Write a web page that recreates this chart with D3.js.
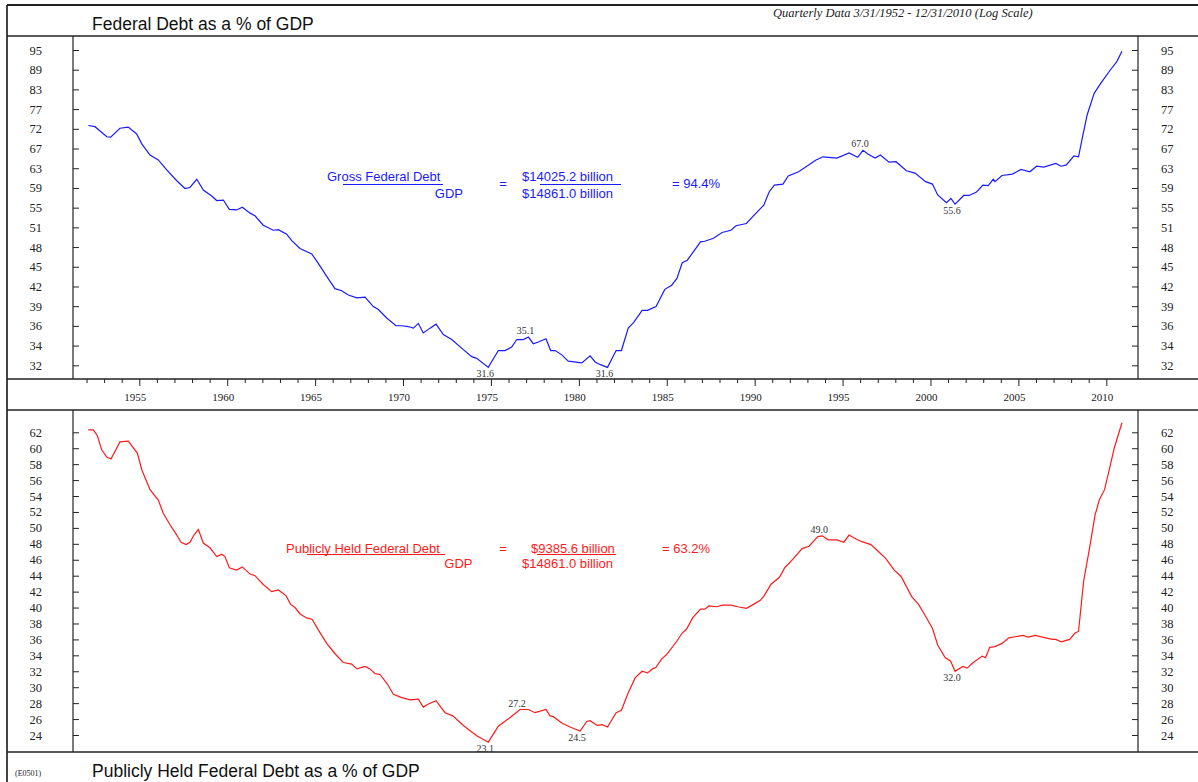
<!DOCTYPE html>
<html lang="en">
<head>
<meta charset="UTF-8" />
<title>Federal Debt as a % of GDP</title>
<style>
  body { margin: 0; background: #fff; }
  svg { display: block; }
  .serif { font-family: "Liberation Serif", "Times New Roman", serif; }
  .sans { font-family: "Liberation Sans", Arial, sans-serif; }
  .axis path.domain { display: none; }
  .axis line { stroke: #222; }
  .axis text { font-family: "Liberation Serif", "Times New Roman", serif; font-size: 12.5px; fill: #222; }
</style>
</head>
<body>
<script src="https://cdn.jsdelivr.net/npm/d3@7"></script>
<script>
// quarterly readings (decimal year, % of GDP)
var grossDebt = [
  [1952.10,73.0],[1952.48,72.7],[1953.15,70.2],[1953.37,70.1],[1953.90,72.3],[1954.37,72.6],[1954.85,70.9],
  [1955.14,68.5],[1955.61,65.9],[1956.08,64.8],[1956.56,62.6],[1957.13,60.3],[1957.60,58.7],[1957.88,58.9],
  [1958.27,60.6],[1958.64,58.4],[1959.12,57.2],[1959.40,56.3],[1959.78,56.4],[1960.12,54.6],[1960.54,54.5],
  [1960.86,55.0],[1961.30,53.9],[1961.58,53.4],[1962.05,51.7],[1962.62,50.8],[1962.91,50.9],[1963.38,50.1],
  [1963.67,49.0],[1964.14,47.7],[1964.81,46.8],[1965.18,45.3],[1965.66,43.3],[1966.13,41.5],[1966.51,41.2],
  [1966.89,40.6],[1967.37,40.2],[1967.84,40.3],[1968.31,39.0],[1968.60,38.6],[1969.07,37.5],[1969.60,36.5],
  [1969.93,36.5],[1970.30,36.4],[1970.59,36.2],[1970.87,36.8],[1971.15,35.6],[1971.54,36.2],[1971.88,36.7],
  [1972.29,35.4],[1972.77,34.8],[1973.43,33.6],[1973.91,32.8],[1974.19,32.6],[1974.85,31.6],[1975.42,33.5],
  [1975.80,33.5],[1976.18,33.9],[1976.47,34.8],[1976.84,34.8],[1977.13,35.1],[1977.41,34.3],[1977.70,34.5],
  [1978.13,34.9],[1978.40,33.5],[1978.65,33.5],[1979.03,33.0],[1979.40,32.3],[1980.17,32.1],[1980.64,32.9],
  [1980.93,32.2],[1981.23,31.9],[1981.63,31.6],[1982.12,33.5],[1982.42,33.5],[1982.81,36.2],[1983.11,36.9],
  [1983.60,38.5],[1983.90,38.5],[1984.39,39.0],[1984.89,41.4],[1985.28,42.0],[1985.58,43.0],[1985.88,45.4],
  [1986.17,45.8],[1986.92,48.8],[1987.16,48.9],[1987.66,49.4],[1988.15,50.4],[1988.65,50.8],[1988.94,51.6],
  [1989.53,52.0],[1989.93,53.4],[1990.52,55.4],[1990.82,58.0],[1991.12,59.4],[1991.61,59.6],[1991.91,61.3],
  [1992.50,62.2],[1993.09,63.7],[1993.49,64.8],[1993.89,65.5],[1994.68,65.2],[1995.37,66.4],[1995.86,65.4],
  [1996.16,67.0],[1996.46,66.1],[1996.85,65.2],[1997.15,65.9],[1997.64,64.3],[1998.04,64.4],[1998.63,62.4],
  [1999.12,61.9],[1999.72,60.1],[2000.11,59.6],[2000.41,57.4],[2000.91,55.9],[2001.16,56.7],[2001.40,55.6],
  [2001.89,57.3],[2002.19,57.3],[2002.62,58.0],[2002.98,59.4],[2003.28,59.3],[2003.57,60.6],[2003.67,60.1],
  [2004.07,61.4],[2004.66,61.7],[2005.15,62.7],[2005.65,62.2],[2006.04,63.4],[2006.44,63.2],[2007.13,64.0],
  [2007.43,63.4],[2007.73,63.7],[2008.16,65.7],[2008.42,65.5],[2008.61,69.4],[2008.91,75.7],[2009.31,81.6],
  [2009.70,84.6],[2010.30,89.0],[2010.59,91.0],[2010.89,94.4]
];

var publicDebt = [
  [1952.10,62.3],[1952.38,62.3],[1952.61,61.6],[1952.86,59.8],[1953.15,58.9],[1953.39,58.65],[1953.90,60.8],
  [1954.37,60.9],[1954.89,59.4],[1955.14,57.3],[1955.61,54.8],[1956.08,53.5],[1956.37,51.8],[1956.75,50.4],
  [1957.13,49.1],[1957.37,48.2],[1957.66,47.9],[1957.88,48.2],[1958.11,49.1],[1958.36,49.8],[1958.64,48.1],
  [1959.02,47.5],[1959.40,46.4],[1959.69,46.7],[1959.87,46.4],[1960.12,45.0],[1960.54,44.7],[1960.86,45.1],
  [1961.30,44.2],[1961.58,44.0],[1962.05,42.9],[1962.53,42.0],[1962.91,42.2],[1963.34,41.5],[1963.61,40.4],
  [1963.86,40.0],[1964.14,39.2],[1964.52,38.7],[1964.84,38.5],[1965.18,37.2],[1965.66,35.5],[1966.13,34.2],
  [1966.60,33.1],[1967.08,32.9],[1967.37,32.3],[1967.84,32.6],[1968.12,32.3],[1968.41,31.7],[1968.69,31.6],
  [1969.11,30.4],[1969.45,29.1],[1969.93,28.7],[1970.40,28.4],[1970.87,28.5],[1971.15,27.5],[1971.44,27.9],
  [1971.88,28.3],[1972.39,26.8],[1972.83,26.4],[1973.43,25.2],[1974.19,23.9],[1974.85,23.1],[1975.42,25.1],
  [1976.09,26.2],[1976.66,27.2],[1977.13,27.2],[1977.51,26.8],[1978.13,27.2],[1978.36,26.4],[1978.55,26.3],
  [1979.03,25.5],[1979.50,25.0],[1980.07,24.5],[1980.45,25.7],[1980.64,25.8],[1981.04,25.2],[1981.33,25.3],
  [1981.63,25.0],[1982.12,26.8],[1982.42,27.1],[1982.81,29.3],[1983.21,31.2],[1983.60,32.0],[1983.90,31.8],
  [1984.20,32.3],[1984.39,32.5],[1984.69,33.5],[1984.99,34.1],[1985.58,35.8],[1985.88,36.8],[1986.13,37.3],
  [1986.47,38.7],[1986.92,39.8],[1987.16,39.8],[1987.40,40.2],[1987.86,40.1],[1988.15,40.3],[1988.65,40.3],
  [1989.04,40.1],[1989.53,39.9],[1989.93,40.4],[1990.32,40.9],[1990.52,41.4],[1990.92,42.9],[1991.41,43.8],
  [1991.71,45.0],[1992.10,45.9],[1992.70,47.4],[1993.09,47.7],[1993.59,48.9],[1993.85,49.0],[1994.18,48.5],
  [1994.68,48.5],[1995.07,48.2],[1995.37,49.1],[1995.76,48.6],[1996.06,48.3],[1996.61,47.9],[1997.05,47.0],
  [1997.44,46.2],[1997.94,44.7],[1998.33,43.9],[1998.92,41.4],[1999.32,40.4],[1999.72,38.9],[2000.11,37.4],
  [2000.41,35.3],[2000.84,33.7],[2001.14,33.3],[2001.40,32.0],[2001.83,32.6],[2002.09,32.4],[2002.38,33.0],
  [2002.94,33.9],[2003.13,33.7],[2003.37,35.0],[2003.67,35.1],[2004.07,35.5],[2004.46,36.2],[2005.25,36.5],
  [2005.55,36.3],[2005.94,36.5],[2006.93,36.0],[2007.13,36.0],[2007.43,35.7],[2007.92,36.0],[2008.22,36.8],
  [2008.42,37.0],[2008.71,43.3],[2009.05,47.5],[2009.36,51.6],[2009.60,53.5],[2009.90,54.8],[2010.19,57.5],
  [2010.45,60.0],[2010.89,63.2]
];

// turning points marked on the chart: [year, value, text, above?]
var grossMarks = [[1974.85,31.6,"31.6",false],[1977.13,35.1,"35.1",true],[1981.63,31.6,"31.6",false],
                  [1996.16,67.0,"67.0",true],[2001.40,55.6,"55.6",false]];
var publicMarks = [[1974.85,23.1,"23.1",false],[1976.66,27.2,"27.2",true],[1980.07,24.5,"24.5",false],
                   [1993.85,49.0,"49.0",true],[2001.40,32.0,"32.0",false]];

// axis labels
var grossTickLabels = ["32","34","36","39","42","45","48","51","55","59","63","67","72","77","83","89","95"];
var publicTickLabels = ["24","26","28","30","32","34","36","38","40","42","44","46","48","50","52","54","56","58","60","62"];
var yearLabels = [1955,1960,1965,1970,1975,1980,1985,1990,1995,2000,2005,2010];
var yearTicks = d3.range(1952, 2011);

var W = 1198, H = 782;
var leftX = 73, rightX = 1138;

var svg = d3.select("body").append("svg")
  .attr("width", W)
  .attr("height", H);

// x scale shared by both panels
var xScale = d3.scaleLinear().domain([1955, 2010]).range([139.3, 1106.3]);

// top panel is log scaled, ticks evenly spaced with rounded labels
var gLo = 31.83, gHi = 94.8;
var yTop = d3.scaleLog().domain([gLo, gHi]).range([365.3, 50]);
var grossTickVals = grossTickLabels.map(function(l, i) {
  return gLo * Math.pow(gHi / gLo, i / (grossTickLabels.length - 1));
});

// bottom panel
var yBot = d3.scaleLinear().domain([24, 62]).range([735, 432.3]);
var publicTickVals = publicTickLabels.map(function(l) { return +l; });

// ---- frame ----
function hline(y, w) {
  svg.append("line").attr("x1", 7).attr("x2", W).attr("y1", y).attr("y2", y)
    .attr("stroke", "#222").attr("stroke-width", w || 1.5);
}
svg.append("line").attr("x1", 7).attr("x2", 7).attr("y1", 5).attr("y2", H)
  .attr("stroke", "#444").attr("stroke-width", 2);
hline(5, 2);
hline(36);
hline(379);
hline(410);
hline(752);

[[36, 379], [410, 752]].forEach(function(r) {
  svg.append("line").attr("x1", leftX).attr("x2", leftX).attr("y1", r[0]).attr("y2", r[1])
    .attr("stroke", "#222").attr("stroke-width", 1.2);
  svg.append("line").attr("x1", rightX).attr("x2", rightX).attr("y1", r[0]).attr("y2", r[1])
    .attr("stroke", "#222").attr("stroke-width", 1.2);
});

// ---- titles ----
svg.append("text").attr("class", "sans")
  .attr("x", 92).attr("y", 30)
  .style("font-size", "17.5px").style("fill", "#111")
  .text("Federal Debt as a % of GDP");

svg.append("text").attr("class", "serif")
  .attr("x", 773).attr("y", 17)
  .style("font-size", "12.5px").style("font-style", "italic").style("fill", "#222")
  .text("Quarterly Data 3/31/1952 - 12/31/2010 (Log Scale)");

svg.append("text").attr("class", "serif")
  .attr("x", 15).attr("y", 776)
  .style("font-size", "8px").style("fill", "#222")
  .text("(E0501)");

svg.append("text").attr("class", "sans")
  .attr("x", 92).attr("y", 777)
  .style("font-size", "17.5px").style("fill", "#111")
  .text("Publicly Held Federal Debt as a % of GDP");

// ---- y axes ----
function yAxes(scale, vals, labels) {
  svg.append("g").attr("class", "axis")
    .attr("transform", "translate(" + leftX + ",0)")
    .call(d3.axisLeft(scale).tickValues(vals)
      .tickFormat(function(d, i) { return labels[i]; })
      .tickSizeInner(-6).tickSizeOuter(0).tickPadding(31));
  svg.append("g").attr("class", "axis")
    .attr("transform", "translate(" + rightX + ",0)")
    .call(d3.axisRight(scale).tickValues(vals)
      .tickFormat(function(d, i) { return labels[i]; })
      .tickSizeInner(-6).tickSizeOuter(0).tickPadding(23));
}
yAxes(yTop, grossTickVals, grossTickLabels);
yAxes(yBot, publicTickVals, publicTickLabels);

// ---- year axis ----
var xAxisG = svg.append("g").attr("class", "axis")
  .attr("transform", "translate(0,379)")
  .call(d3.axisBottom(xScale).tickValues(yearTicks).tickFormat("").tickSizeOuter(0).tickSize(4));
xAxisG.selectAll(".tick line")
  .attr("y2", function(d) { return d % 5 === 0 ? 7 : 4; });

svg.selectAll("text.year")
  .data(yearLabels)
  .enter().append("text")
  .attr("class", "year serif")
  .attr("x", function(d) { return xScale(d) - 4; })
  .attr("y", 401)
  .attr("text-anchor", "middle")
  .style("font-size", "11px").style("fill", "#222")
  .text(function(d) { return d; });

// ---- lines ----
var grossLine = d3.line()
  .x(function(d) { return xScale(d[0]); })
  .y(function(d) { return yTop(d[1]); });
var publicLine = d3.line()
  .x(function(d) { return xScale(d[0]); })
  .y(function(d) { return yBot(d[1]); });

svg.append("path").datum(grossDebt)
  .attr("d", grossLine)
  .attr("fill", "none").attr("stroke", "#1a1aff").attr("stroke-width", 1.2);

svg.append("path").datum(publicDebt)
  .attr("d", publicLine)
  .attr("fill", "none").attr("stroke", "#ff1a1a").attr("stroke-width", 1.2);

// ---- turning point labels ----
function marks(list, scale) {
  list.forEach(function(m) {
    svg.append("text").attr("class", "serif")
      .attr("x", xScale(m[0]) - 3)
      .attr("y", scale(m[1]) + (m[3] ? -3 : 10))
      .attr("text-anchor", "middle")
      .style("font-size", "10px").style("fill", "#333")
      .text(m[2]);
  });
}
marks(grossMarks, yTop);
marks(publicMarks, yBot);

// ---- ratio notes ----
function note(color, rows, bars) {
  rows.forEach(function(r) {
    svg.append("text").attr("class", "sans")
      .attr("x", r[0]).attr("y", r[1])
      .attr("text-anchor", r[3] || "start")
      .style("font-size", "13px").style("fill", color)
      .text(r[2]);
  });
  bars.forEach(function(b) {
    svg.append("line").attr("x1", b[0]).attr("x2", b[1]).attr("y1", b[2]).attr("y2", b[2])
      .attr("stroke", color).attr("stroke-width", 1);
  });
}

note("#1a1aff", [
  [327, 181, "Gross Federal Debt"],
  [463, 197.5, "GDP", "end"],
  [503, 188, "=", "middle"],
  [522, 181, "$14025.2 billion"],
  [522, 197.5, "$14861.0 billion"],
  [672, 188, "= 94.4%"]
], [[343, 443, 184.5], [540, 621, 184.5]]);

note("#ff1a1a", [
  [286, 553, "Publicly Held Federal Debt"],
  [472.5, 567.5, "GDP", "end"],
  [503, 553, "=", "middle"],
  [531, 553, "$9385.6 billion"],
  [522, 567.5, "$14861.0 billion"],
  [662, 553, "= 63.2%"]
], [[307, 445, 554.5], [537, 616, 554.5]]);
</script>
</body>
</html>
